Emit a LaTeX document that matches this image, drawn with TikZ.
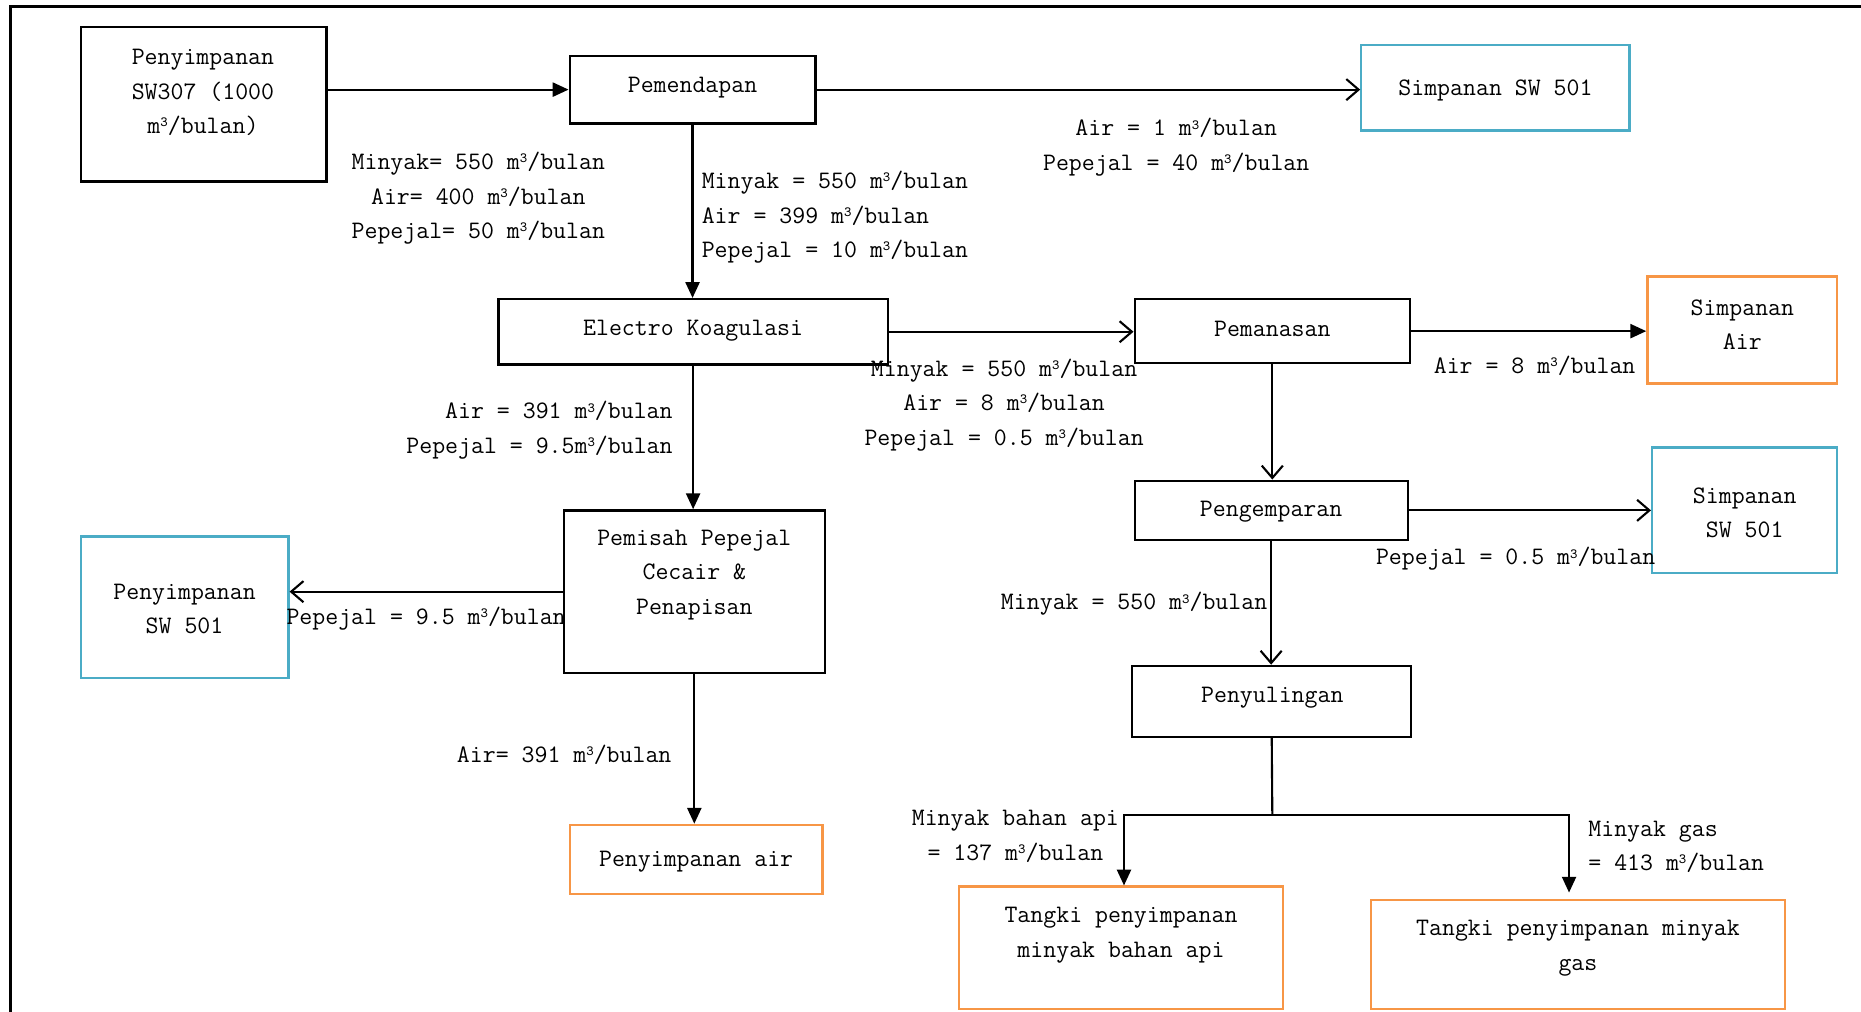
\documentclass[tikz,border=0pt]{standalone}
\usetikzlibrary{arrows.meta,fit}
\definecolor{sblue}{RGB}{75,172,198}
\definecolor{sorange}{RGB}{247,150,70}
\newcommand\mcu{m\raisebox{0.62ex}{\fontsize{8}{8}\selectfont 3}}
\begin{document}
\begin{tikzpicture}[x=0.023738cm, y=-0.023738cm,
  box/.style={draw, line width=1.3pt, inner sep=0pt},
  blk/.style={box, draw=black},
  bl/.style={box, draw=sblue},
  org/.style={box, draw=sorange},
  txt/.style={font=\fontsize{14.3}{19.6}\selectfont\ttfamily, inner sep=0pt, align=center},
  fa/.style={line width=1.2pt, -{Triangle[length=9pt,width=8pt]}},
  oa/.style={line width=1.2pt, -{Straight Barb[length=7pt,width=12pt]}},
]
\useasboundingbox (0,0) rectangle (1568,852);
\draw[line width=1.4pt] (9,860) -- (9,5.5) -- (1575,5.5);

% boxes
\node[blk, fit={(68,23) (275,153)}] (b1) {};
\node[blk, fit={(480,47) (687,104)}] (b2) {};
\node[bl,  fit={(1147,38) (1373,110)}] (b3) {};
\node[blk, fit={(420,252) (748,307)}] (b4) {};
\node[blk, fit={(956,252) (1188,306)}] (b5) {};
\node[org, fit={(1388,233) (1548,323)}] (b6) {};
\node[blk, fit={(956,405) (1186,455)}] (b7) {};
\node[bl,  fit={(1392,377) (1548,483)}] (b8) {};
\node[blk, fit={(475,430) (695,567)}] (b9) {};
\node[bl,  fit={(68,452) (243,571)}] (b10) {};
\node[blk, fit={(954,561) (1189,621)}] (b11) {};
\node[org, fit={(480,695) (693,753)}] (b12) {};
\node[org, fit={(808,747) (1081,850)}] (b13) {};
\node[org, fit={(1155,758) (1504,850)}] (b14) {};

% box texts
\node[txt] (t1) at (171,78) {Penyimpanan\\SW307 (1000\\\mcu/bulan)};
\node[txt] (t2) at (583.5,73.5) {Pemendapan};
\node[txt] (t3) at (1260,76) {Simpanan SW 501};
\node[txt] (t4) at (584,278.5) {Electro Koagulasi};
\node[txt] (t5) at (1072,277) {Pemanasan};
\node[txt] (t6) at (1468,273.5) {Simpanan\\Air};
\node[txt] (t7) at (1071,431.5) {Pengemparan};
\node[txt] (t8) at (1470,432) {Simpanan\\SW 501};
\node[txt] (t9) at (585,484.5) {Pemisah Pepejal\\Cecair \&\\Penapisan};
\node[txt] (t10) at (155.5,513) {Penyimpanan\\SW 501};
\node[txt] (t11) at (1072,587.5) {Penyulingan};
\node[txt] (t12) at (586.5,726) {Penyimpanan air};
\node[txt] (t13) at (944.5,788) {Tangki penyimpanan\\minyak bahan api};
\node[txt] (t14) at (1329.5,799) {Tangki penyimpanan minyak\\gas};

% connectors
\draw[fa] (b1.east |- b2.west) -- (b2.west);
\draw[oa] (b2.east) -- (b3.west |- b2.east);
\draw[fa] (b2.south) -- (b2.south |- b4.north);
\draw[oa] (b4.east) -- (b5.west |- b4.east);
\draw[fa] (b5.east) -- (b6.west |- b5.east);
\draw[oa] (b5.south) -- (b5.south |- b7.north);
\draw[fa] (b4.south) -- (b4.south |- b9.north);
\draw[oa] (b9.west) -- (b10.east |- b9.west);
\draw[fa] (b9.south) -- (b9.south |- b12.north);
\draw[oa] (b7.east) -- (b8.west |- b7.east);
\draw[oa] (b7.south) -- (b7.south |- b11.north);
\coordinate (j) at (1072,687);
\draw[line width=1.2pt] (b11.south) -- (j);
\draw[fa] (j) -| ([xshift=0.06cm]b13.north);
\draw[fa] (j) -| ([xshift=-0.178cm,yshift=0.119cm]b14.north);

% flow labels
\node[txt] (l1) at (403,167) {Minyak= 550 \mcu/bulan\\Air= 400 \mcu/bulan\\Pepejal= 50 \mcu/bulan};
\node[txt, align=left, anchor=west] (l2) at (591,183) {Minyak = 550 \mcu/bulan\\Air = 399 \mcu/bulan\\Pepejal = 10 \mcu/bulan};
\node[txt] (l3) at (991,124) {Air = 1 \mcu/bulan\\Pepejal = 40 \mcu/bulan};
\node[txt] (l4) at (846,341) {Minyak = 550 \mcu/bulan\\Air = 8 \mcu/bulan\\Pepejal = 0.5 \mcu/bulan};
\node[txt] (l5) at (1293,308) {Air = 8 \mcu/bulan};
\node[txt, align=right, anchor=east] (l6) at (567,362.5) {Air = 391 \mcu/bulan\\Pepejal = 9.5\mcu/bulan};
\node[txt] (l7) at (359,521) {Pepejal = 9.5 \mcu/bulan};
\node[txt] (l8) at (1277,471) {Pepejal = 0.5 \mcu/bulan};
\node[txt, anchor=east] (l9) at (1068,509) {Minyak = 550 \mcu/bulan};
\node[txt, anchor=east] (l10) at (566,636) {Air= 391 \mcu/bulan};
\node[txt] (l11) at (855.5,704.5) {Minyak bahan api\\= 137 \mcu/bulan};
\node[txt, align=left, anchor=west] (l12) at (1338,713.5) {Minyak gas\\= 413 \mcu/bulan};
\end{tikzpicture}
\end{document}
